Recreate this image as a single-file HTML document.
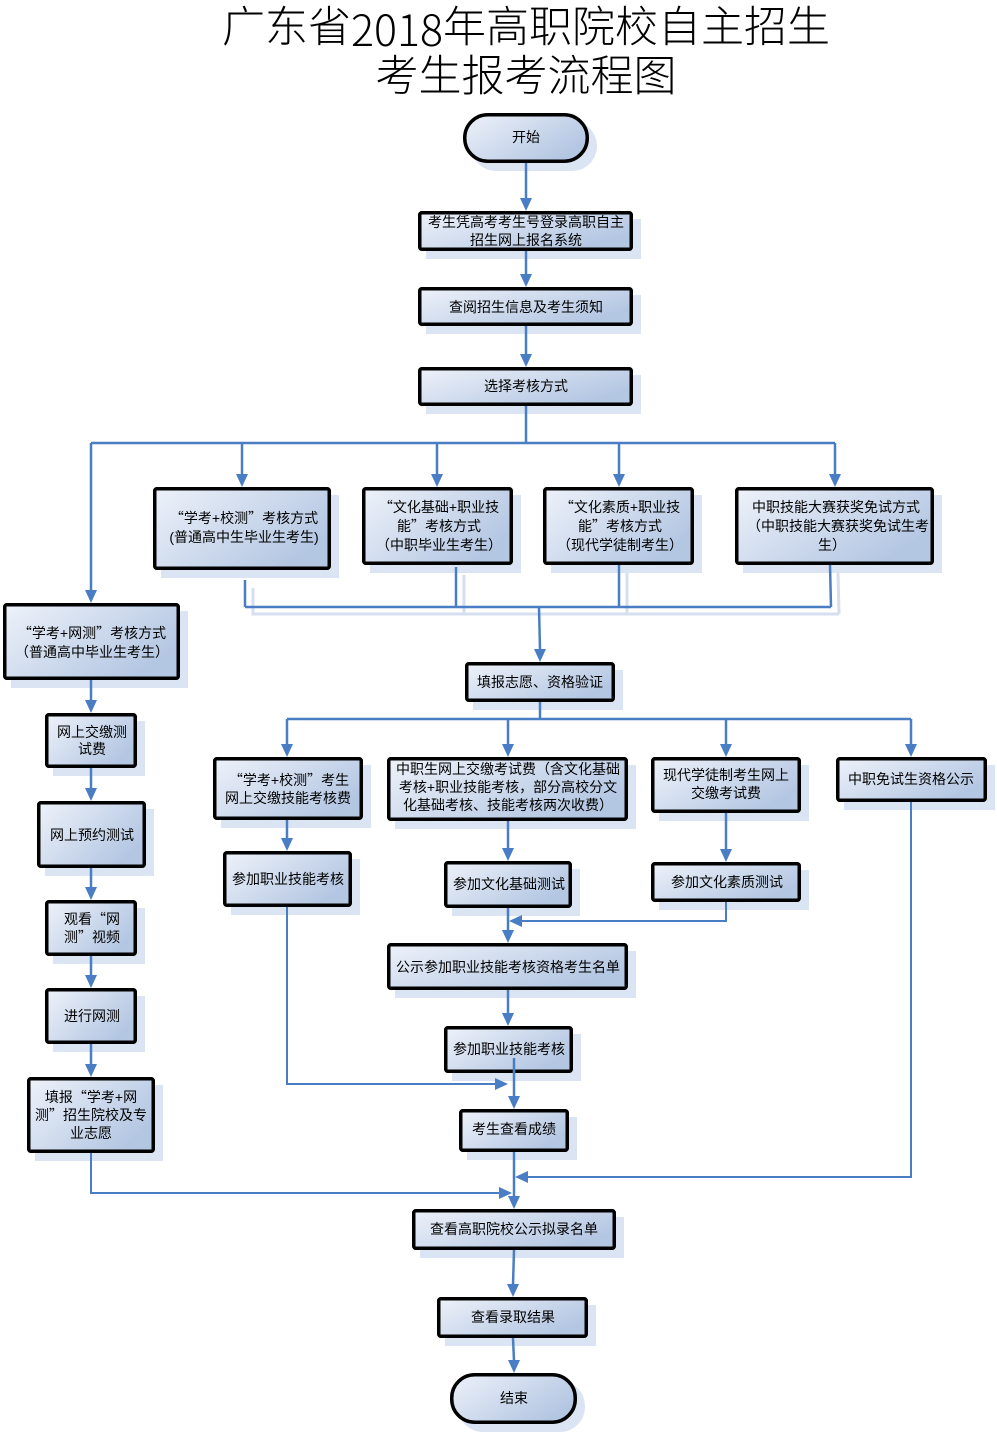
<!DOCTYPE html>
<html><head><meta charset="utf-8">
<style>
html,body{margin:0;padding:0;background:#fff;}
svg{display:block;}
.t{font-family:"Liberation Sans","Noto Sans CJK SC",sans-serif;font-size:14px;text-anchor:middle;dominant-baseline:central;fill:#000;}
.ti{font-family:"Liberation Sans","Noto Sans CJK SC",sans-serif;font-size:43px;font-weight:300;text-anchor:middle;dominant-baseline:central;fill:#000;}
.q{font-family:"Noto Sans CJK SC",sans-serif;}
.b{fill:url(#g);stroke:#000;stroke-width:3.5;}
.s{fill:#dbe4f3;}
.c{stroke:#4a7ec4;stroke-width:2.5;fill:none;}
.cs{stroke:#d5dff0;stroke-width:3;fill:none;}
.a{fill:#4a7ec4;}
</style></head>
<body>
<svg width="997" height="1435" viewBox="0 0 997 1435" xmlns="http://www.w3.org/2000/svg">
<defs>
<linearGradient id="g" x1="0" y1="0" x2="1" y2="0.6">
<stop offset="0" stop-color="#eef2fa"/>
<stop offset="1" stop-color="#b3c6e2"/>
</linearGradient>
</defs>

<!-- Title -->
<text class="ti" x="526" y="28">广东省<tspan class="q">2018</tspan>年高职院校自主招生</text>
<text class="ti" x="526" y="77">考生报考流程图</text>

<!-- connector shadows -->
<polyline class="cs" points="253,588 253,614 839,614"/>
<line class="cs" x1="464" y1="575" x2="464" y2="614"/>
<line class="cs" x1="627" y1="573" x2="627" y2="614"/>
<line class="cs" x1="838" y1="573" x2="839" y2="614"/>

<!-- box shadows -->
<rect class="s" x="471" y="121" width="126" height="50" rx="25"/>
<rect class="s" x="426" y="219" width="215" height="40"/>
<rect class="s" x="426" y="295" width="215" height="39"/>
<rect class="s" x="426" y="375" width="215" height="39"/>
<rect class="s" x="161" y="495" width="178" height="83"/>
<rect class="s" x="370" y="495" width="151" height="78"/>
<rect class="s" x="551" y="495" width="151" height="78"/>
<rect class="s" x="743" y="495" width="199" height="78"/>
<rect class="s" x="11" y="611" width="177" height="77"/>
<rect class="s" x="473" y="670" width="150" height="40"/>
<rect class="s" x="53" y="721" width="92" height="55"/>
<rect class="s" x="45" y="809" width="109" height="67"/>
<rect class="s" x="221" y="765" width="150" height="63"/>
<rect class="s" x="395" y="765" width="241" height="64"/>
<rect class="s" x="659" y="765" width="150" height="56"/>
<rect class="s" x="844" y="765" width="151" height="45"/>
<rect class="s" x="231" y="859" width="129" height="56"/>
<rect class="s" x="452" y="869" width="128" height="47"/>
<rect class="s" x="659" y="870" width="150" height="40"/>
<rect class="s" x="53" y="908" width="92" height="56"/>
<rect class="s" x="395" y="951" width="241" height="47"/>
<rect class="s" x="53" y="996" width="92" height="56"/>
<rect class="s" x="452" y="1034" width="129" height="47"/>
<rect class="s" x="35" y="1085" width="128" height="76"/>
<rect class="s" x="467" y="1117" width="110" height="43"/>
<rect class="s" x="420" y="1217" width="204" height="41"/>
<rect class="s" x="445" y="1305" width="151" height="41"/>
<rect class="s" x="458" y="1381" width="127" height="51" rx="25"/>

<!-- connectors -->
<line class="c" x1="526" y1="163" x2="526" y2="199"/>
<line class="c" x1="526" y1="251" x2="526" y2="275"/>
<line class="c" x1="526" y1="326" x2="526" y2="355"/>
<polyline class="c" points="526,406 526,443"/>
<line class="c" x1="91" y1="443" x2="835" y2="443"/>
<line class="c" x1="242" y1="443" x2="242" y2="475"/>
<line class="c" x1="437" y1="443" x2="437" y2="475"/>
<line class="c" x1="619" y1="443" x2="619" y2="475"/>
<line class="c" x1="835" y1="443" x2="835" y2="475"/>
<line class="c" x1="91" y1="443" x2="91" y2="591"/>

<line class="c" x1="245" y1="580" x2="245" y2="607"/>
<line class="c" x1="456" y1="567" x2="456" y2="607"/>
<line class="c" x1="619" y1="565" x2="619" y2="607"/>
<line class="c" x1="830" y1="565" x2="831" y2="607"/>
<line class="c" x1="245" y1="607" x2="831" y2="607"/>
<line class="c" x1="539" y1="607" x2="540" y2="650"/>

<line class="c" x1="540" y1="702" x2="540" y2="719"/>
<line class="c" x1="287" y1="719" x2="911" y2="719"/>
<line class="c" x1="287" y1="719" x2="287" y2="745"/>
<line class="c" x1="508" y1="719" x2="508" y2="745"/>
<line class="c" x1="726" y1="719" x2="726" y2="745"/>
<line class="c" x1="911" y1="719" x2="911" y2="745"/>

<line class="c" x1="91" y1="680" x2="91" y2="701"/>
<line class="c" x1="91" y1="768" x2="91" y2="789"/>
<line class="c" x1="91" y1="868" x2="91" y2="888"/>
<line class="c" x1="91" y1="956" x2="91" y2="976"/>
<line class="c" x1="91" y1="1044" x2="91" y2="1065"/>
<polyline class="c" style="stroke-width:2" points="91,1153 91,1193 500,1193"/>

<line class="c" x1="287" y1="820" x2="287" y2="839"/>
<polyline class="c" style="stroke-width:2" points="287,907 287,1084 496,1084"/>
<line class="c" x1="508" y1="821" x2="508" y2="849"/>
<line class="c" x1="508" y1="908" x2="508" y2="931"/>
<line class="c" x1="726" y1="813" x2="726" y2="850"/>
<polyline class="c" style="stroke-width:2" points="726,902 726,921 521,921"/>
<line class="c" x1="508" y1="990" x2="508" y2="1014"/>

<polyline class="c" style="stroke-width:2" points="911,802 911,1177 527,1177"/>
<line class="c" x1="514" y1="1152" x2="514" y2="1197"/>
<line class="c" x1="514" y1="1250" x2="513" y2="1285"/>
<line class="c" x1="513" y1="1338" x2="514" y2="1361"/>

<!-- arrowheads -->
<polygon class="a" points="520,198 532,198 526,211"/>
<polygon class="a" points="520,274 532,274 526,287"/>
<polygon class="a" points="520,354 532,354 526,367"/>
<polygon class="a" points="236,474 248,474 242,487"/>
<polygon class="a" points="431,474 443,474 437,487"/>
<polygon class="a" points="613,474 625,474 619,487"/>
<polygon class="a" points="829,474 841,474 835,487"/>
<polygon class="a" points="85,590 97,590 91,603"/>
<polygon class="a" points="534,649 546,649 540,662"/>
<polygon class="a" points="281,744 293,744 287,757"/>
<polygon class="a" points="502,744 514,744 508,757"/>
<polygon class="a" points="720,744 732,744 726,757"/>
<polygon class="a" points="905,744 917,744 911,757"/>
<polygon class="a" points="85,700 97,700 91,713"/>
<polygon class="a" points="85,788 97,788 91,801"/>
<polygon class="a" points="85,887 97,887 91,900"/>
<polygon class="a" points="85,975 97,975 91,988"/>
<polygon class="a" points="85,1064 97,1064 91,1077"/>
<polygon class="a" points="499,1187 499,1199 512,1193"/>
<polygon class="a" points="281,838 293,838 287,851"/>
<polygon class="a" points="495,1078 495,1090 508,1084"/>
<polygon class="a" points="502,848 514,848 508,861"/>
<polygon class="a" points="502,930 514,930 508,943"/>
<polygon class="a" points="720,849 732,849 726,862"/>
<polygon class="a" points="522,915 522,927 509,921"/>
<polygon class="a" points="502,1013 514,1013 508,1026"/>
<polygon class="a" points="528,1171 528,1183 515,1177"/>
<polygon class="a" points="508,1196 520,1196 514,1209"/>
<polygon class="a" points="507,1284 519,1284 513,1297"/>
<polygon class="a" points="508,1360 520,1360 514,1373"/>

<!-- boxes -->
<rect class="b" x="464.75" y="114.75" width="122.5" height="46.5" rx="23"/>
<rect class="b" x="419.75" y="212.75" width="211.5" height="36.5" rx="2"/>
<rect class="b" x="419.75" y="288.75" width="211.5" height="35.5" rx="2"/>
<rect class="b" x="419.75" y="368.75" width="211.5" height="35.5" rx="2"/>
<rect class="b" x="154.75" y="488.75" width="174.5" height="79.5" rx="2"/>
<rect class="b" x="363.75" y="488.75" width="147.5" height="74.5" rx="2"/>
<rect class="b" x="544.75" y="488.75" width="147.5" height="74.5" rx="2"/>
<rect class="b" x="736.75" y="488.75" width="195.5" height="74.5" rx="2"/>
<rect class="b" x="4.75" y="604.75" width="173.5" height="73.5" rx="2"/>
<rect class="b" x="466.75" y="663.75" width="146.5" height="36.5" rx="2"/>
<rect class="b" x="46.75" y="714.75" width="88.5" height="51.5" rx="2"/>
<rect class="b" x="38.75" y="802.75" width="105.5" height="63.5" rx="2"/>
<rect class="b" x="214.75" y="758.75" width="146.5" height="59.5" rx="2"/>
<rect class="b" x="388.75" y="758.75" width="237.5" height="60.5" rx="2"/>
<rect class="b" x="652.75" y="758.75" width="146.5" height="52.5" rx="2"/>
<rect class="b" x="837.75" y="758.75" width="147.5" height="41.5" rx="2"/>
<rect class="b" x="224.75" y="852.75" width="125.5" height="52.5" rx="2"/>
<rect class="b" x="445.75" y="862.75" width="124.5" height="43.5" rx="2"/>
<rect class="b" x="652.75" y="863.75" width="146.5" height="36.5" rx="2"/>
<rect class="b" x="46.75" y="901.75" width="88.5" height="52.5" rx="2"/>
<rect class="b" x="388.75" y="944.75" width="237.5" height="43.5" rx="2"/>
<rect class="b" x="46.75" y="989.75" width="88.5" height="52.5" rx="2"/>
<rect class="b" x="445.75" y="1027.75" width="125.5" height="43.5" rx="2"/>
<rect class="b" x="28.75" y="1078.75" width="124.5" height="72.5" rx="2"/>
<rect class="b" x="460.75" y="1110.75" width="106.5" height="39.5" rx="2"/>
<rect class="b" x="413.75" y="1210.75" width="200.5" height="37.5" rx="2"/>
<rect class="b" x="438.75" y="1298.75" width="147.5" height="37.5" rx="2"/>
<rect class="b" x="451.75" y="1374.75" width="123.5" height="47.5" rx="23"/>

<!-- line drawn over box -->
<line class="c" x1="514" y1="1058" x2="514" y2="1097"/>
<polygon class="a" points="508,1096 520,1096 514,1109"/>

<!-- texts -->
<text class="t" x="526" y="137">开始</text>
<text class="t" x="526" y="222">考生凭高考考生号登录高职自主</text>
<text class="t" x="526" y="240">招生网上报名系统</text>
<text class="t" x="526" y="307">查阅招生信息及考生须知</text>
<text class="t" x="526" y="386">选择考核方式</text>

<text class="t" x="244" y="518"><tspan class="q">“</tspan>学考+校测<tspan class="q">”</tspan>考核方式</text>
<text class="t" x="244" y="537">(普通高中生毕业生考生)</text>

<text class="t" x="439" y="507"><tspan class="q">“</tspan>文化基础+职业技</text>
<text class="t" x="439" y="526">能<tspan class="q">”</tspan>考核方式</text>
<text class="t" x="439" y="545">（中职毕业生考生）</text>

<text class="t" x="620" y="507"><tspan class="q">“</tspan>文化素质+职业技</text>
<text class="t" x="620" y="526">能<tspan class="q">”</tspan>考核方式</text>
<text class="t" x="620" y="545">（现代学徒制考生）</text>

<text class="t" x="836" y="507">中职技能大赛获奖免试方式</text>
<text class="t" x="838" y="526">（中职技能大赛获奖免试生考</text>
<text class="t" x="832" y="545">生）</text>

<text class="t" x="92" y="633"><tspan class="q">“</tspan>学考+网测<tspan class="q">”</tspan>考核方式</text>
<text class="t" x="92" y="652">（普通高中毕业生考生）</text>

<text class="t" x="540" y="682">填报志愿、资格验证</text>

<text class="t" x="92" y="732">网上交缴测</text>
<text class="t" x="92" y="749">试费</text>
<text class="t" x="92" y="835">网上预约测试</text>
<text class="t" x="92" y="919">观看<tspan class="q">“</tspan>网</text>
<text class="t" x="92" y="937">测<tspan class="q">”</tspan>视频</text>
<text class="t" x="92" y="1016">进行网测</text>
<text class="t" x="91" y="1097">填报<tspan class="q">“</tspan>学考+网</text>
<text class="t" x="91" y="1115">测<tspan class="q">”</tspan>招生院校及专</text>
<text class="t" x="91" y="1133">业志愿</text>

<text class="t" x="289" y="780"><tspan class="q">“</tspan>学考+校测<tspan class="q">”</tspan>考生</text>
<text class="t" x="288" y="798">网上交缴技能考核费</text>

<text class="t" x="508" y="769">中职生网上交缴考试费（含文化基础</text>
<text class="t" x="508" y="787">考核+职业技能考核，部分高校分文</text>
<text class="t" x="508" y="805">化基础考核、技能考核两次收费）</text>

<text class="t" x="726" y="775">现代学徒制考生网上</text>
<text class="t" x="726" y="793">交缴考试费</text>

<text class="t" x="911" y="779">中职免试生资格公示</text>

<text class="t" x="288" y="879">参加职业技能考核</text>
<text class="t" x="509" y="884">参加文化基础测试</text>
<text class="t" x="727" y="882">参加文化素质测试</text>

<text class="t" x="508" y="967">公示参加职业技能考核资格考生名单</text>
<text class="t" x="509" y="1049">参加职业技能考核</text>
<text class="t" x="514" y="1129">考生查看成绩</text>
<text class="t" x="514" y="1229">查看高职院校公示拟录名单</text>
<text class="t" x="513" y="1317">查看录取结果</text>
<text class="t" x="514" y="1398">结束</text>
</svg>
</body></html>
